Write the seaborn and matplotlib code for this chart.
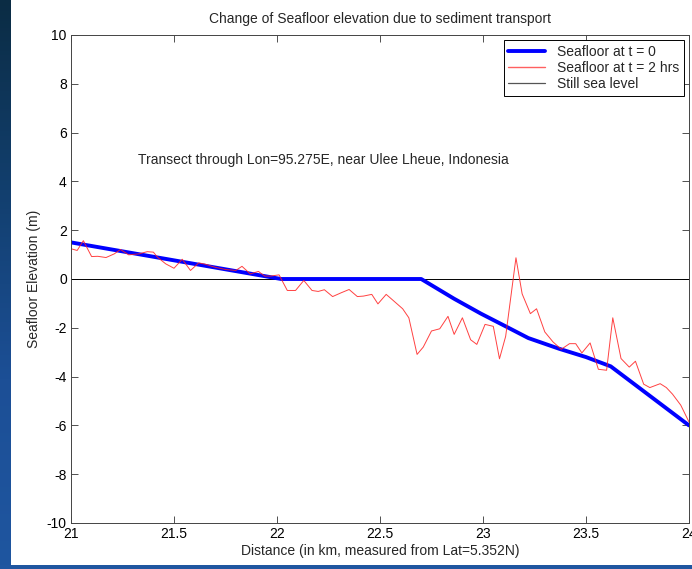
import numpy as np
import pandas as pd
import matplotlib
matplotlib.use("Agg")
import matplotlib.pyplot as plt
from matplotlib.lines import Line2D
from matplotlib.colors import LinearSegmentedColormap
import seaborn as sns

# ---- data ----
blue_x = [21.0, 22.02, 22.70, 22.86, 22.99, 23.11, 23.22, 23.37, 23.50, 23.62, 24.0]
blue_y = [1.5, 0.0, 0.0, -0.81, -1.42, -1.94, -2.42, -2.86, -3.20, -3.58, -6.0]

red_x = [21.00, 21.03, 21.06, 21.10, 21.13, 21.17, 21.21, 21.24, 21.28, 21.33, 21.37,
         21.40, 21.42, 21.46, 21.50, 21.54, 21.58, 21.62, 21.65, 21.70, 21.75,
         21.80, 21.83, 21.87, 21.91, 21.94, 21.97, 22.01,
         22.05, 22.09, 22.13, 22.17, 22.20, 22.23, 22.27, 22.31, 22.35, 22.39, 22.42, 22.46, 22.49,
         22.53, 22.56, 22.61, 22.64, 22.68, 22.71, 22.75, 22.79, 22.83, 22.86, 22.90, 22.94, 22.97,
         23.01, 23.05, 23.08, 23.11, 23.16, 23.19,
         23.23, 23.26, 23.30, 23.34, 23.38, 23.42, 23.45, 23.48, 23.52, 23.56, 23.60, 23.63,
         23.67, 23.71, 23.74, 23.78, 23.81, 23.86, 23.89, 23.92, 23.96, 24.00]
red_y = [1.24, 1.17, 1.57, 0.92, 0.93, 0.88, 1.03, 1.21, 0.99, 1.03, 1.12,
         1.10, 0.89, 0.62, 0.44, 0.81, 0.35, 0.66, 0.61, 0.48, 0.39,
         0.35, 0.52, 0.21, 0.31, 0.12, 0.12, 0.17,
         -0.47, -0.47, -0.06, -0.47, -0.51, -0.44, -0.72, -0.57, -0.43, -0.72, -0.70, -0.63, -1.02,
         -0.63, -0.85, -1.22, -1.59, -3.09, -2.79, -2.13, -2.04, -1.53, -2.27, -1.59, -2.49, -2.68,
         -1.86, -1.94, -3.27, -2.35, 0.87, -0.61,
         -1.42, -1.22, -2.17, -2.58, -2.88, -2.65, -2.65, -3.03, -2.62, -3.70, -3.74, -1.59,
         -3.26, -3.61, -3.37, -4.31, -4.45, -4.29, -4.45, -4.72, -5.17, -5.86]

x_ticks = [21, 21.5, 22, 22.5, 23, 23.5, 24]
x_tick_labels = ["21", "21.5", "22", "22.5", "23", "23.5", "24"]
y_ticks = [-10, -8, -6, -4, -2, 0, 2, 4, 6, 8, 10]

title = "Change of Seafloor elevation due to sediment transport"
xlabel = "Distance (in km, measured from Lat=5.352N)"
ylabel = "Seafloor Elevation (m)"
note = "Transect through Lon=95.275E, near Ulee Lheue, Indonesia"
labels = ["Seafloor at t = 0", "Seafloor at t = 2 hrs", "Still sea level"]

assert len(red_x) == len(red_y)

df_blue = pd.DataFrame({"x": blue_x, "y": blue_y})
df_red = pd.DataFrame({"x": red_x, "y": red_y})

# ---- style ----
sns.set_style("ticks")
plt.rcParams["font.family"] = ["Liberation Sans", "DejaVu Sans"]
plt.rcParams["font.size"] = 10

W, H = 692, 569
fig = plt.figure(figsize=(W / 100, H / 100), dpi=100, facecolor="white")

# slide background strips (left and bottom)
grad = np.linspace(0, 1, 256).reshape(-1, 1)
cmap = LinearSegmentedColormap.from_list("slide", ["#0b2c44", "#123f6e", "#1c4f96", "#1f56a0"])
axl = fig.add_axes([0, 0, 11 / W, 1])
axl.imshow(grad, aspect="auto", cmap=cmap, extent=[0, 1, 0, 1], origin="upper")
axl.set_axis_off()
axb = fig.add_axes([0, 0, 1, 4 / H])
axb.imshow(np.ones((1, 2)), aspect="auto",
           cmap=LinearSegmentedColormap.from_list("b", ["#1f56a0", "#1f56a0"]), vmin=0, vmax=1)
axb.set_axis_off()

ax = fig.add_axes([71 / W, (H - 523) / H, (689 - 71) / W, (523 - 35) / H])
ax.set_facecolor("white")

blue_c = "#0000ff"
red_c = "#ff2020"
sns.lineplot(data=df_blue, x="x", y="y", ax=ax, color=blue_c, linewidth=2.8,
             estimator=None, sort=False, legend=False)
sns.lineplot(data=df_red, x="x", y="y", ax=ax, color=red_c, linewidth=0.7, alpha=0.85,
             estimator=None, sort=False, legend=False)
ax.axhline(0, color="black", linewidth=0.7, zorder=1)

ax.set_xlim(21, 24)
ax.set_ylim(-10, 10)
ax.set_xticks(x_ticks)
ax.set_xticklabels(x_tick_labels)
ax.set_yticks(y_ticks)
ax.set_yticklabels([str(v) for v in y_ticks])

ax.tick_params(direction="in", length=5, width=0.6, top=True, right=True,
               labelsize=10, colors="#333333", labelcolor="black", pad=3)
for s in ax.spines.values():
    s.set_visible(True)
    s.set_linewidth(0.7)
    s.set_color("#444444")

ax.set_title(title, fontsize=10, pad=9)
ax.set_xlabel(xlabel, fontsize=10, labelpad=2)
ax.set_ylabel(ylabel, fontsize=10, labelpad=4)

ax.text(21.325, 4.89, note, fontsize=10, va="center", ha="left")

handles = [Line2D([], [], color=blue_c, linewidth=2.8),
           Line2D([], [], color="#ff6060", linewidth=1.0),
           Line2D([], [], color="#555555", linewidth=0.9)]
leg = ax.legend(handles, labels, loc="upper right", fontsize=10, frameon=True, fancybox=False,
                framealpha=1, edgecolor="black", borderpad=0.35, labelspacing=0.15,
                handlelength=2.6, handletextpad=0.9, borderaxespad=0.35)
leg.get_frame().set_linewidth(0.7)

fig.savefig("out.png", dpi=100, facecolor="white")
